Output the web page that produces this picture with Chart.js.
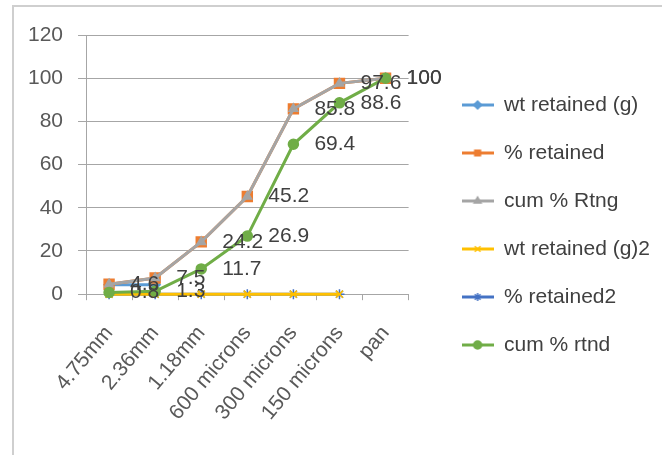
<!DOCTYPE html>
<html><head><meta charset="utf-8">
<script src="https://cdn.jsdelivr.net/npm/chart.js@4/dist/chart.umd.min.js"></script>
<style>
html,body{margin:0;padding:0;background:#fff;overflow:hidden;width:662px;height:455px}
#frame{position:absolute;left:12px;top:5px;width:720px;height:520px;border:2px solid #cfcfcf;box-sizing:border-box}
#wrap{position:absolute;left:0;top:0;width:662px;height:455px}
</style></head><body>
<div id="frame"></div>
<div id="wrap"><canvas id="c" width="662" height="455"></canvas></div>
<script>
const categories = ['4.75mm','2.36mm','1.18mm','600 microns','300 microns','150 microns','pan'];
const wtRetained   = [4.4, 4.4, null, null, null, null, null];
const pctRetained  = [4.6, 7.5, 24.2, 45.2, 85.8, 97.6, 100];
const cumRtng      = [4.6, 7.5, 24.2, 45.2, 85.8, 97.6, 100];
const wtRetained2  = [0, 0, 0, 0, 0, 0, null];
const pctRetained2 = [0, 0, 0, 0, 0, 0, null];
const cumRtnd      = [0.8, 1.3, 11.7, 26.9, 69.4, 88.6, 100];
const yTicks = [0, 20, 40, 60, 80, 100, 120];
const seriesNames = ['wt retained (g)','% retained','cum % Rtng','wt retained (g)2','% retained2','cum % rtnd'];

const FONT = {family:'"Liberation Sans", Arial, sans-serif', size:21};
const styles = [
  {color:'#5B9BD5', marker:'rectRot', r:5},
  {color:'#ED7D31', marker:'rect', r:7},
  {color:'#A5A5A5', marker:'triangle', r:5},
  {color:'#FFC000', marker:'crossRot', r:5},
  {color:'#4472C4', marker:'star', r:5},
  {color:'#70AD47', marker:'circle', r:5}
];
const values = [wtRetained, pctRetained, cumRtng, wtRetained2, pctRetained2, cumRtnd];
const orders = [6, 5, 4, 2, 3, 1];

const datasets = values.map((v, i) => ({
  label: seriesNames[i],
  data: v,
  borderColor: styles[i].color,
  backgroundColor: styles[i].color,
  pointBackgroundColor: styles[i].color,
  pointBorderColor: styles[i].color,
  pointStyle: styles[i].marker,
  pointRadius: styles[i].r,
  pointBorderWidth: 1.5,
  borderWidth: 3,
  tension: 0,
  spanGaps: false,
  clip: false,
  order: orders[i],
  xAxisID: 'x', yAxisID: 'y'
}));

const labelPlugin = {
  id: 'vlabels',
  afterDatasetsDraw(chart){
    const ctx = chart.ctx;
    ctx.save();
    ctx.font = '21px "Liberation Sans", Arial, sans-serif';
    ctx.fillStyle = '#404040';
    ctx.textAlign = 'left';
    ctx.textBaseline = 'middle';
    [2, 5].forEach(di => {
      const meta = chart.getDatasetMeta(di);
      meta.data.forEach((pt, i) => {
        const v = chart.data.datasets[di].data[i];
        if (v == null) return;
        ctx.fillText(String(v), pt.x + 21, pt.y);
      });
    });
    ctx.restore();
  }
};

const iconPlugin = {
  id: 'icons',
  beforeInit(chart){
    chart.$icons = styles.map(st => {
      const c = document.createElement('canvas');
      c.width = 32; c.height = 12;
      const g = c.getContext('2d');
      g.strokeStyle = st.color; g.fillStyle = st.color; g.lineWidth = 3;
      g.beginPath(); g.moveTo(0, 6); g.lineTo(32, 6); g.stroke();
      g.lineWidth = 1.5;
      Chart.helpers.drawPoint(g, {pointStyle: st.marker, radius: 4, borderWidth: 1.5}, 16, 6);
      return c;
    });
  }
};

const hiddenScale = {display: true, grid: {display: false}, border: {display: false}, ticks: {display: false}};

new Chart(document.getElementById('c'), {
  type: 'line',
  data: {labels: categories, datasets},
  options: {
    responsive: false,
    animation: false,
    devicePixelRatio: 1,
    layout: {padding: {left: 13, top: 4, right: 2, bottom: 9}},
    plugins: {
      tooltip: {enabled: false},
      legend: {
        position: 'right',
        maxWidth: 260,
        labels: {
          font: FONT,
          color: '#404040',
          usePointStyle: true,
          pointStyleWidth: 32,
          boxHeight: 12,
          padding: 27,
          sort: (a, b) => a.datasetIndex - b.datasetIndex,
          generateLabels(chart){
            const items = Chart.defaults.plugins.legend.labels.generateLabels(chart);
            items.forEach(it => { it.pointStyle = chart.$icons[it.datasetIndex]; });
            return items;
          }
        }
      }
    },
    scales: {
      x: {
        offset: true,
        grid: {display: true, drawOnChartArea: false, drawTicks: true, tickLength: 6, offset: true, color: '#a6a6a6'},
        border: {color: '#a6a6a6', width: 1},
        ticks: {font: FONT, color: '#595959', maxRotation: 50, minRotation: 50, autoSkip: false, padding: 21}
      },
      xTop: Object.assign({type: 'category', position: 'top', afterFit: s => { s.height = 31; }}, hiddenScale),
      y: {
        min: 0, max: 120,
        afterBuildTicks: s => { s.ticks = yTicks.map(v => ({value: v})); },
        ticks: {font: FONT, color: '#595959', padding: 15},
        grid: {color: '#a6a6a6', tickLength: 8, drawTicks: true},
        border: {color: '#a6a6a6', width: 1}
      },
      yRight: Object.assign({type: 'linear', position: 'right', min: 0, max: 1, afterFit: s => { s.width = 26; }}, hiddenScale)
    }
  },
  plugins: [iconPlugin, labelPlugin]
});
</script>
</body></html>
